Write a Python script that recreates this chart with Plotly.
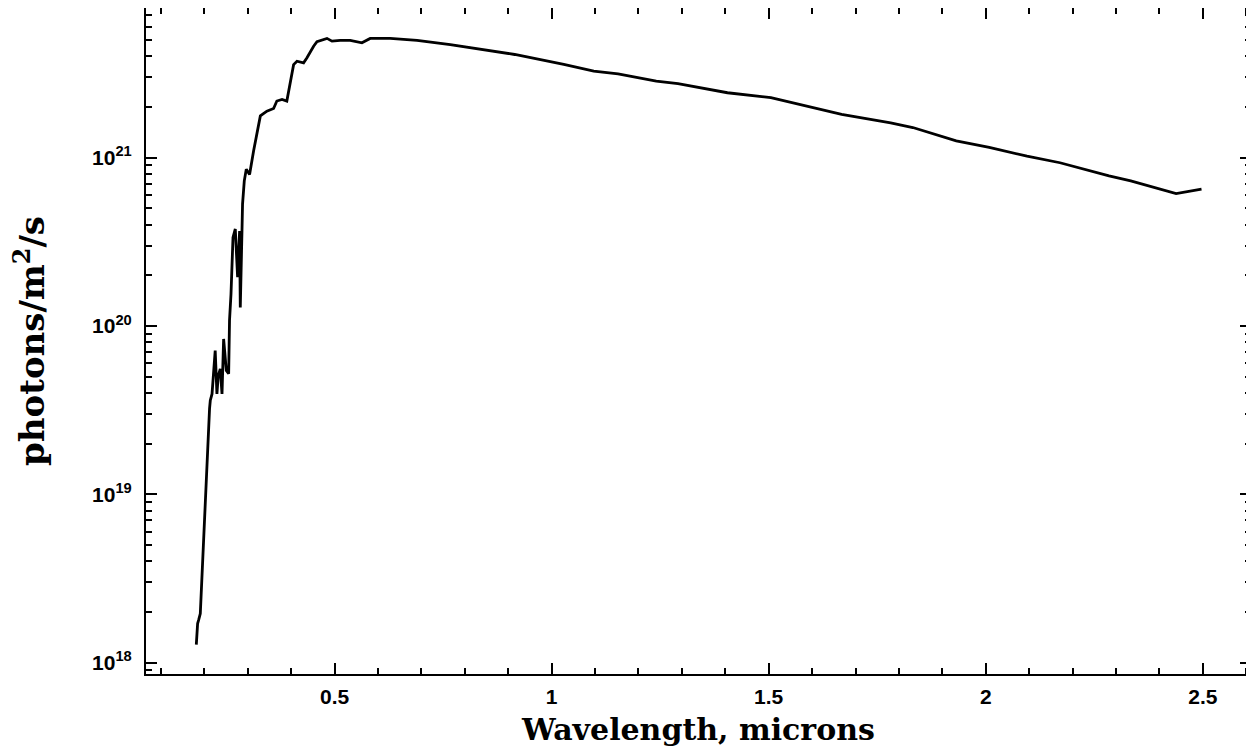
import plotly.graph_objects as go

# wavelength (microns) and photon flux (photons/m^2/s)
wavelength = [
    0.1815, 0.1845, 0.1868, 0.1907, 0.2120, 0.2137, 0.2177, 0.2250, 0.2290,
    0.2320, 0.2367, 0.2407, 0.2444, 0.2506, 0.2560, 0.2580, 0.2614, 0.2660,
    0.2713, 0.2736, 0.2766, 0.2812, 0.2828, 0.2867, 0.2880, 0.2920, 0.2966,
    0.3042, 0.3135, 0.3290, 0.3440, 0.3595, 0.3670, 0.3790, 0.3900, 0.4056,
    0.4134, 0.4286, 0.4364, 0.4517, 0.4594, 0.4825, 0.4940, 0.5130, 0.5360,
    0.5630, 0.5820, 0.6280, 0.6900, 0.7665, 0.9150, 1.0280, 1.0970, 1.1530,
    1.2410, 1.2910, 1.4050, 1.5050, 1.5930, 1.6680, 1.7810, 1.8320, 1.9320,
    2.0080, 2.0950, 2.1710, 2.2840, 2.3340, 2.4385, 2.4970,
]
photons = [
    1.28e18, 1.71e18, 1.79e18, 1.96e18, 3.23e19, 3.61e19, 3.95e19, 7.14e19, 3.95e19,
    5.07e19, 5.57e19, 3.95e19, 8.38e19, 5.45e19, 5.20e19, 1.08e20, 1.55e20, 3.36e20,
    3.77e20, 2.80e20, 1.95e20, 3.67e20, 1.29e20, 3.67e20, 5.30e20, 7.28e20, 8.53e20,
    7.94e20, 1.10e21, 1.77e21, 1.89e21, 1.96e21, 2.17e21, 2.22e21, 2.17e21, 3.57e21,
    3.74e21, 3.66e21, 3.92e21, 4.59e21, 4.88e21, 5.11e21, 4.92e21, 4.97e21, 4.97e21,
    4.81e21, 5.11e21, 5.11e21, 4.97e21, 4.70e21, 4.10e21, 3.58e21, 3.27e21, 3.15e21,
    2.85e21, 2.75e21, 2.43e21, 2.27e21, 2.02e21, 1.81e21, 1.61e21, 1.51e21, 1.26e21,
    1.15e21, 1.02e21, 9.33e20, 7.80e20, 7.28e20, 6.12e20, 6.50e20,
]

y_decades = [18, 19, 20, 21]
y_ticktext = ["10<sup>%d</sup>" % d for d in y_decades]

tick_font = dict(family="Liberation Sans", size=21, color="black", weight="bold")
xtitle_font = dict(family="DejaVu Serif", size=30, color="black", weight="bold")
ytitle_font = dict(family="DejaVu Serif", size=34, color="black", weight="bold")

fig = go.Figure(go.Scatter(
    x=wavelength, y=photons, mode="lines",
    line=dict(color="black", width=2.8),
    showlegend=False, hoverinfo="x+y",
))

# minor ticks 2..9 in each decade
minor_vals = [m * 10.0 ** d for d in range(17, 22) for m in range(2, 10)]

fig.update_xaxes(
    range=[0.0656, 2.611],
    tickmode="linear", tick0=0, dtick=0.5,
    ticks="inside", ticklen=11, tickwidth=2, tickcolor="black",
    minor=dict(ticks="inside", ticklen=6, tickwidth=2, tickcolor="black",
               tickmode="linear", tick0=0, dtick=0.1),
    showline=True, linewidth=2, linecolor="black", mirror="ticks",
    showgrid=False, zeroline=False,
    tickfont=tick_font, ticklabelstandoff=3,
    title=dict(text="Wavelength, microns", font=xtitle_font, standoff=12),
)
fig.update_yaxes(
    type="log", range=[17.933, 21.889],
    tickmode="array", tickvals=[10.0 ** d for d in y_decades], ticktext=y_ticktext,
    ticks="inside", ticklen=11, tickwidth=2, tickcolor="black",
    minor=dict(ticks="inside", ticklen=6, tickwidth=2, tickcolor="black",
               tickmode="array", tickvals=minor_vals),
    showline=True, linewidth=2, linecolor="black", mirror="ticks",
    showgrid=False, zeroline=False,
    tickfont=tick_font, ticklabelstandoff=8,
    title=dict(text="photons/m<sup>2</sup>/s", font=ytitle_font, standoff=40),
)

# page body adds an 8px offset, so the figure is sized to sit inside the window
fig.update_layout(
    width=1246, height=747,
    margin=dict(l=138, r=3, t=0, b=81, autoexpand=False),
    plot_bgcolor="white", paper_bgcolor="white",
)

fig.write_html("out.html")
